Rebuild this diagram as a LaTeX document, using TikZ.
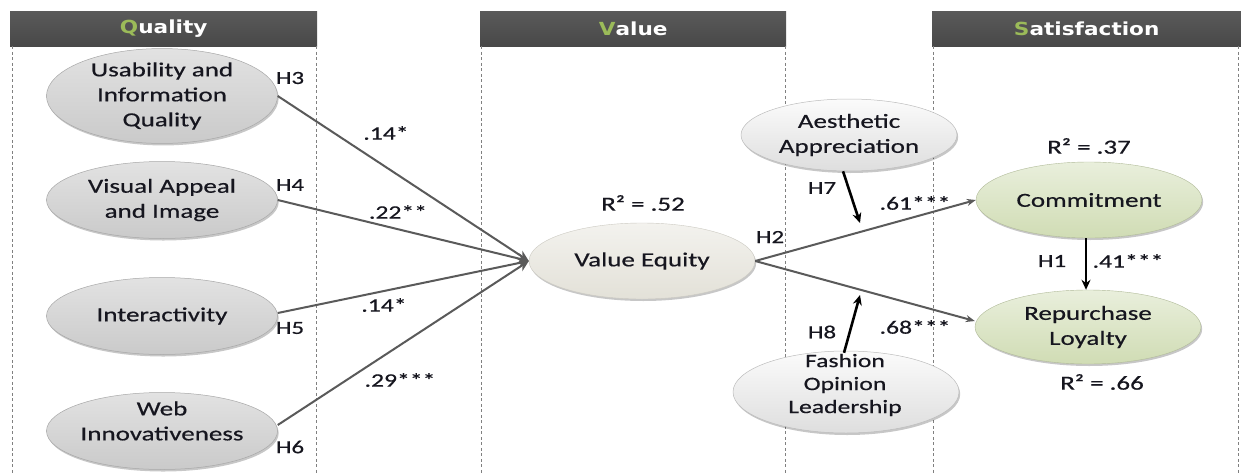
\documentclass[tikz,border=0pt]{standalone}
\usepackage{fontspec}
\setmainfont{Carlito}[FakeStretch=1.35,FakeBold=0.5]
\newfontfamily\headfont{DejaVu Sans}[FakeStretch=1.2]
\usetikzlibrary{shapes.geometric,shadows,arrows.meta}

\definecolor{headtop}{HTML}{5A5A5A}
\definecolor{headbot}{HTML}{484848}
\definecolor{initial}{HTML}{9BBB59}
\definecolor{qtop}{HTML}{E2E2E2}
\definecolor{qbot}{HTML}{CACACA}
\definecolor{qedge}{HTML}{A8A8A8}
\definecolor{vtop}{HTML}{F3F2EE}
\definecolor{vbot}{HTML}{E3E1D8}
\definecolor{mtop}{HTML}{FBFBFB}
\definecolor{mbot}{HTML}{DEDEDE}
\definecolor{stop}{HTML}{E9EFDC}
\definecolor{sbot}{HTML}{D0DCB4}
\definecolor{linegray}{HTML}{5A5A5A}
\definecolor{panelgray}{HTML}{808080}
\definecolor{ink}{HTML}{16161F}

\newcommand{\firstletter}[1]{\textcolor{initial}{#1}}

\begin{document}
\begin{tikzpicture}[x=1pt,y=-1pt,
  every node/.style={text=ink},
  head/.style={anchor=north west, minimum height=35, inner sep=0,
    top color=headtop, bottom color=headbot,
    font=\headfont\bfseries\fontsize{18}{20}\selectfont, text=white},
  panel/.style={draw=panelgray, line width=0.8pt, dash pattern=on 3pt off 2.5pt},
  blob/.style={ellipse, inner sep=0, align=center,
    font=\fontsize{20}{25}\selectfont,
    drop shadow={shadow xshift=1.2pt, shadow yshift=-2pt, fill=black, opacity=0.22}},
  qual/.style={blob, minimum width=231, minimum height=77,
    top color=qtop, bottom color=qbot, draw=qedge, line width=0.5pt},
  valnode/.style={blob, minimum width=226, minimum height=76,
    top color=vtop, bottom color=vbot, draw=vbot!90!black, line width=0.4pt},
  modnode/.style={blob, top color=mtop, bottom color=mbot, draw=mbot!85!black, line width=0.5pt},
  satnode/.style={blob, minimum width=226, minimum height=76,
    top color=stop, bottom color=sbot, draw=sbot!85!black, line width=0.4pt},
  bodytext/.style={align=center, inner sep=0, font=\fontsize{20}{25}\selectfont},
  hyp/.style={inner sep=0, font=\fontsize{18.5}{20}\selectfont},
  coef/.style={inner sep=0, font=\fontsize{19}{22}\selectfont},
  rsq/.style={inner sep=0, font=\fontsize{20}{24}\selectfont},
  conn/.style={draw=linegray, line width=2pt, -{Stealth[length=11pt,width=10pt]}},
  outconn/.style={draw=linegray, line width=2pt, -{Stealth[length=9pt,width=7pt]}},
  modarrow/.style={draw=black, line width=2.6pt, -{Stealth[length=10pt,width=9pt]}}
]
\useasboundingbox (0,0) rectangle (1241,474);
\fill[white] (0,0) rectangle (1241,474);

% column headers
\node[head, minimum width=307] (qh) at (10,11) {\firstletter{Q}uality};
\node[head, minimum width=306] (vh) at (480,11) {\firstletter{V}alue};
\node[head, minimum width=309] (sh) at (932,11) {\firstletter{S}atisfaction};

% dashed column borders
\coordinate (base) at (0,474);
\draw[panel] ([xshift=2pt]qh.south west) -- ([xshift=2pt]qh.south west |- base);
\draw[panel] ([xshift=-1pt]qh.south east) -- ([xshift=-1pt]qh.south east |- base);
\draw[panel] ([xshift=1pt]vh.south west) -- ([xshift=1pt]vh.south west |- base);
\draw[panel] ([xshift=-1pt]vh.south east) -- ([xshift=-1pt]vh.south east |- base);
\draw[panel] ([xshift=1pt]sh.south west) -- ([xshift=1pt]sh.south west |- base);
\draw[panel] ([xshift=-3pt]sh.south east) -- ([xshift=-3pt]sh.south east |- base);

% quality constructs
\node[qual] (usab) at (162,96) {Usability and\\Information\\Quality};
\node[qual] (vis) at (162,200) {Visual Appeal\\and Image};
\node[qual] (inter) at (162,316) {Interactivity};
\node[qual] (web) at (162,431) {};
\node[bodytext] (webtxt) at (162,421) {Web\\Innovativeness};

% value
\node[valnode] (ve) at (642,261) {Value Equity};
\node[rsq] (r52) at (643,203) {R² = .52};

% moderators
\node[modnode, minimum width=216, minimum height=72] (aes) at (849,135) {Aesthetic\\Appreciation};
\node[modnode, minimum width=226, minimum height=82] (fol) at (846,392) {};
\node[bodytext, font=\fontsize{19}{23}\selectfont] (foltxt) at (845,385) {Fashion\\Opinion\\Leadership};

% satisfaction constructs
\node[satnode] (com) at (1089,200) {Commitment};
\node[satnode, minimum height=74] (rep) at (1088,327) {Repurchase\\Loyalty};
\node[rsq] (r37) at (1089,146) {R² = .37};
\node[rsq] (r66) at (1102,382) {R² = .66};

% paths into value equity
\draw[conn] (usab.east) -- (ve.west);
\draw[conn] (vis.east) -- (ve.west);
\draw[conn] ([yshift=3pt]inter.east) -- (ve.west);
\draw[conn] ([yshift=6pt]web.east) -- (ve.west);

% paths out of value equity
\draw[outconn] (ve.east) -- (com.west);
\draw[outconn] (ve.east) -- ([yshift=6pt]rep.west);

% moderating effects
\coordinate (h7tip) at (860,223);
\coordinate (h8tip) at (860,295);
\draw[modarrow] ([xshift=-6pt]aes.south) -- (h7tip);
\draw[modarrow] ([xshift=-2pt,yshift=-2pt]fol.north) -- (h8tip);

% commitment to loyalty
\draw[modarrow] ([xshift=-3pt]com.south) -- ([xshift=-3pt]com.south |- rep.north);

% hypothesis labels
\node[hyp] (h3) at (290,78) {H3};
\node[hyp] (h4) at (290,185) {H4};
\node[hyp] (h5) at (290,328) {H5};
\node[hyp] (h6) at (290,447) {H6};
\node[hyp] (h2) at (770,237) {H2};
\node[hyp] (h7) at (822,188) {H7};
\node[hyp] (h8) at (822,332) {H8};
\node[hyp] (h1) at (1052,261) {H1};

% path coefficients
\node[coef] (c3) at (386,133) {.14*};
\node[coef] (c4) at (398,212) {.22**};
\node[coef] (c5) at (384,305) {.14*};
\node[coef] (c6) at (400,380) {.29***};
\node[coef] (c7) at (915,203) {.61***};
\node[coef] (c8) at (915,327) {.68***};
\node[coef] (c1) at (1128,261) {.41***};
\end{tikzpicture}
\end{document}
